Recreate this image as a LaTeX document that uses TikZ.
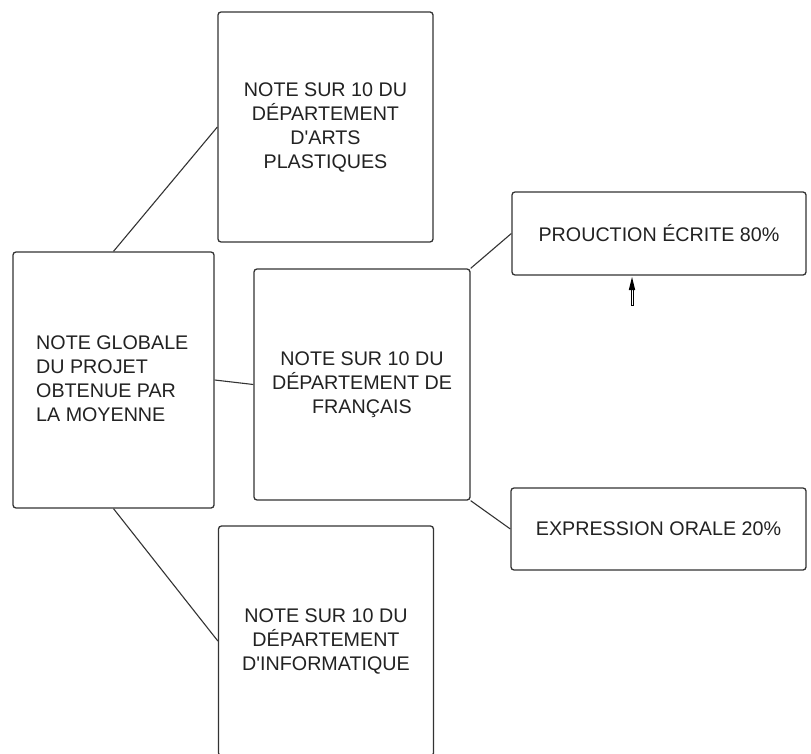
\documentclass[tikz,border=0pt]{standalone}
\usepackage{fontspec}
\setmainfont{Liberation Sans}[Ligatures=TeXOff]
\definecolor{edge}{HTML}{333333}
\definecolor{txt}{HTML}{222222}
\begin{document}
\begin{tikzpicture}[x=1pt,y=-1pt,
  box/.style={draw=edge, line width=1.3pt, rounded corners=3pt, fill=white, inner sep=0pt, text=txt,
    font=\fontsize{19.7}{24}\selectfont, align=center},
  link/.style={draw=edge, line width=1.1pt}]
\clip (0,0) rectangle (811,754);
\fill[white] (0,0) rectangle (811,754);
% boxes
\node[box, minimum width=201pt, minimum height=256pt] (glob) at (113.5,380) {};
\node[txt, font=\fontsize{19.7}{24}\selectfont, align=left, anchor=west, inner sep=0pt] (globt) at (36,379)
  {NOTE GLOBALE\\DU PROJET\\OBTENUE PAR\\LA MOYENNE};
\node[box, minimum width=215pt, minimum height=230pt] (arts) at (325.5,127)
  {NOTE SUR 10 DU\\DÉPARTEMENT\\D'ARTS\\PLASTIQUES};
\node[box, minimum width=216pt, minimum height=231pt] (fr) at (362,384.5)
  {NOTE SUR 10 DU\\DÉPARTEMENT DE\\FRANÇAIS};
\node[box, minimum width=215pt, minimum height=230pt] (info) at (326,641)
  {NOTE SUR 10 DU\\DÉPARTEMENT\\D'INFORMATIQUE};
\node[box, minimum width=294pt, minimum height=83pt] (prod) at (659,233.5)
  {PROUCTION ÉCRITE 80\%};
\node[box, minimum width=295pt, minimum height=82pt] (oral) at (658.5,529)
  {EXPRESSION ORALE 20\%};
% connectors
\draw[link] (glob.north) -- (arts.west);
\draw[link] (glob.east) -- (fr.west);
\draw[link] (glob.south) -- (info.west);
\draw[link] (fr.north east) -- (prod.west);
\draw[link] (fr.south east) -- (oral.west);
% mouse cursor
\draw[black, line width=0.6pt, fill=white] (630.8,288) rectangle (633.4,305);
\fill[black] (628.8,290) -- (632,277) -- (635.2,290) -- cycle;
\end{tikzpicture}
\end{document}
